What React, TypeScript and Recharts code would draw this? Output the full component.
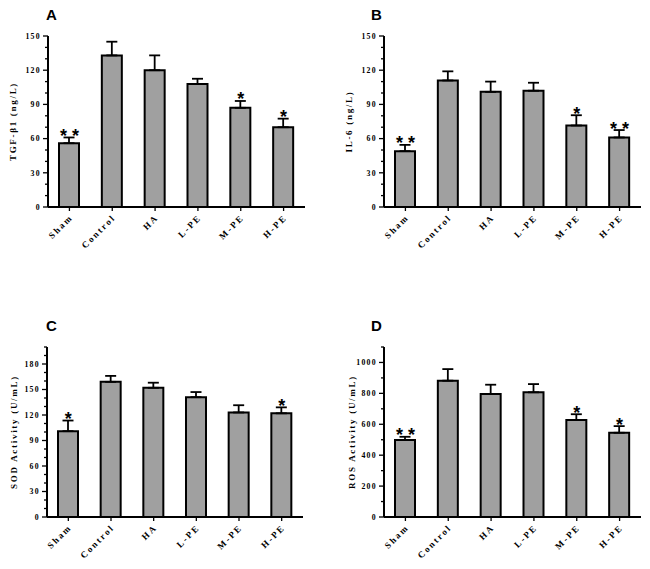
import React from 'react';
import { ComposedChart, Bar, Line, XAxis, YAxis, ErrorBar, LabelList, Label } from 'recharts';

// groups on the x axis
const categories = ['Sham', 'Control', 'HA', 'L-PE', 'M-PE', 'H-PE'];

// A: TGF-β1 (ng/L)
const tgfMean = [56, 133, 120, 108, 87, 70];
const tgfSem = [5, 12, 13, 4.5, 6, 7.5];
const tgfStars = ['**', '', '', '', '*', '*'];
const tgfTicks = [0, 10, 20, 30, 40, 50, 60, 70, 80, 90, 100, 110, 120, 130, 140, 150];

// B: IL-6 (ng/L)
const il6Mean = [49, 111, 101, 102, 71.5, 61];
const il6Sem = [5.5, 8, 9, 7, 9, 6.5];
const il6Stars = ['**', '', '', '', '*', '**'];
const il6Ticks = [0, 10, 20, 30, 40, 50, 60, 70, 80, 90, 100, 110, 120, 130, 140, 150];

// C: SOD activity (U/mL)
const sodMean = [101, 159, 152, 141, 123, 122];
const sodSem = [12.5, 7, 6, 6, 8.5, 7];
const sodStars = ['*', '', '', '', '', '*'];
const sodTicks = [0, 10, 20, 30, 40, 50, 60, 70, 80, 90, 100, 110, 120, 130, 140, 150, 160, 170, 180, 190, 200];

// D: ROS activity (U/mL)
const rosMean = [498, 882, 796, 807, 628, 545];
const rosSem = [21, 75, 60, 53, 37, 43];
const rosStars = ['**', '', '', '', '*', '*'];
const rosTicks = [0, 100, 200, 300, 400, 500, 600, 700, 800, 900, 1000, 1100];

const SERIF = "'Liberation Serif', 'Times New Roman', serif";
const SANS = "'Liberation Sans', Arial, sans-serif";

function buildRows(mean: number[], sem: number[], stars: string[]) {
  return categories.map((name, i) => ({
    name,
    mean: mean[i],
    err: [0, sem[i]],
    top: mean[i] + sem[i],
    stars: stars[i].split('').join(' '),
  }));
}

function YTick(props: any) {
  const { y, payload, axisX, major } = props;
  const v = payload.value;
  const isMajor = v % major === 0;
  return (
    <g>
      <line x1={axisX - (isMajor ? 5 : 3)} x2={axisX} y1={y} y2={y} stroke="#000" strokeWidth={1.3} />
      {isMajor && (
        <text x={axisX - 7} y={y + 2.8} textAnchor="end" fontFamily={SERIF} fontWeight="bold" fontSize={7.8} letterSpacing={1.3} fill="#000">
          {v}
        </text>
      )}
    </g>
  );
}

// slanted group names under the x axis
function XTick(props: any) {
  const { x, y, payload } = props;
  const ax = x + 4;
  const ay = y + 4;
  return (
    <text
      x={ax}
      y={ay}
      transform={`rotate(-45 ${ax} ${ay})`}
      textAnchor="end"
      fontFamily={SERIF}
      fontWeight="bold"
      fontSize={9}
      letterSpacing={2}
      fill="#000"
    >
      {payload.value}
    </text>
  );
}

function renderStar(props: any) {
  const { x, y, value } = props;
  if (!value) return null;
  return (
    <text x={x} y={y + 4.5} textAnchor="middle" fontFamily={SANS} fontWeight="bold" fontSize={18} fill="#000">
      {value}
    </text>
  );
}

interface PanelProps {
  letter: string;
  left: number;
  top: number;
  height: number;
  yAxisWidth: number;
  marginTop: number;
  marginRight: number;
  xAxisHeight: number;
  mean: number[];
  sem: number[];
  stars: string[];
  ticks: number[];
  major: number;
  yTitle: string;
  titleX: number;
}

function Panel(p: PanelProps) {
  const rows = buildRows(p.mean, p.sem, p.stars);
  const domainMax = p.ticks[p.ticks.length - 1];
  return (
    <div style={{ position: 'absolute', left: p.left, top: p.top, width: 325, height: p.height }}>
      <div
        style={{
          position: 'absolute',
          left: 46,
          top: p.marginTop - 29,
          fontFamily: SANS,
          fontWeight: 'bold',
          fontSize: 15,
          lineHeight: '15px',
          color: '#000',
        }}
      >
        {p.letter}
      </div>
      <ComposedChart
        width={325}
        height={p.height}
        data={rows}
        margin={{ top: p.marginTop, right: p.marginRight, left: 0, bottom: 0 }}
        barCategoryGap="24%"
      >
        <XAxis
          dataKey="name"
          interval={0}
          height={p.xAxisHeight}
          axisLine={{ stroke: '#000', strokeWidth: 2 }}
          tickLine={{ stroke: '#000', strokeWidth: 1.3 }}
          tickSize={4}
          tickMargin={3}
          tick={<XTick />}
        />
        <YAxis
          type="number"
          domain={[0, domainMax]}
          ticks={p.ticks}
          interval={0}
          width={p.yAxisWidth}
          axisLine={{ stroke: '#000', strokeWidth: 2 }}
          tickLine={false}
          tick={<YTick axisX={p.yAxisWidth} major={p.major} />}
        >
          <Label
            content={(lp: any) => {
              const vb = lp.viewBox || {};
              const cy = vb.y !== undefined ? vb.y + vb.height / 2 : 120;
              return (
                <text
                  x={p.titleX}
                  y={cy}
                  transform={`rotate(-90, ${p.titleX}, ${cy})`}
                  textAnchor="middle"
                  fontFamily={SERIF}
                  fontWeight="bold"
                  fontSize={9}
                  letterSpacing={1.7}
                  fill="#000"
                >
                  {p.yTitle}
                </text>
              );
            }}
          />
        </YAxis>
        <Bar dataKey="mean" fill="#a0a0a0" stroke="#000" strokeWidth={2} barSize={20} isAnimationActive={false}>
          <ErrorBar dataKey="err" direction="y" width={5.5} stroke="#000" strokeWidth={1.8} />
        </Bar>
        <Line dataKey="top" stroke="none" dot={false} activeDot={false} legendType="none" isAnimationActive={false}>
          <LabelList dataKey="stars" content={renderStar} />
        </Line>
      </ComposedChart>
    </div>
  );
}

export default function App() {
  return (
    <div style={{ position: 'absolute', left: 0, top: 0, width: 650, height: 569, background: '#fff' }}>
      <Panel letter="A" left={0} top={0} height={285} yAxisWidth={48} marginTop={36} marginRight={20} xAxisHeight={78}
        mean={tgfMean} sem={tgfSem} stars={tgfStars} ticks={tgfTicks} major={30} yTitle="TGF-β1 (ng/L)" titleX={16} />
      <Panel letter="B" left={325} top={0} height={285} yAxisWidth={59} marginTop={36} marginRight={9} xAxisHeight={78}
        mean={il6Mean} sem={il6Sem} stars={il6Stars} ticks={il6Ticks} major={30} yTitle="IL-6 (ng/L)" titleX={27} />
      <Panel letter="C" left={0} top={285} height={284} yAxisWidth={47} marginTop={62} marginRight={22} xAxisHeight={52}
        mean={sodMean} sem={sodSem} stars={sodStars} ticks={sodTicks} major={30} yTitle="SOD Activity (U/mL)" titleX={16.5} />
      <Panel letter="D" left={325} top={285} height={284} yAxisWidth={59} marginTop={62} marginRight={9} xAxisHeight={52}
        mean={rosMean} sem={rosSem} stars={rosStars} ticks={rosTicks} major={200} yTitle="ROS Activity (U/mL)" titleX={29.5} />
    </div>
  );
}
